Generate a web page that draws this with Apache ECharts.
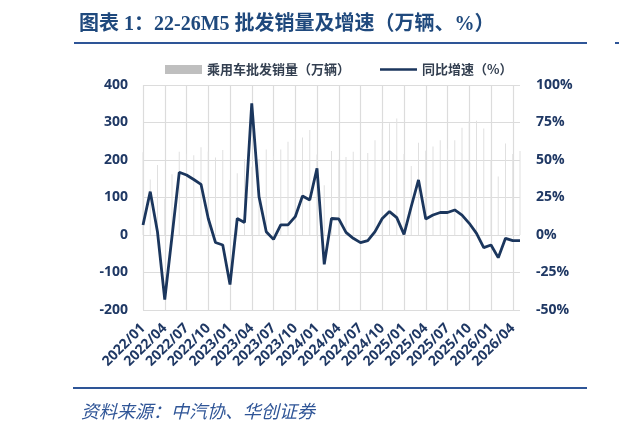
<!DOCTYPE html>
<html>
<head>
<meta charset="utf-8">
<script src="https://cdn.jsdelivr.net/npm/echarts@6/dist/echarts.min.js"></script>
<style>
    html, body { margin: 0; padding: 0; background: #fff; }
    #main { width: 619px; height: 436px; }
</style>
</head>
<body>
<div id="main"></div>
<script>
// 月份 2022/01 - 2026/05
let months = [];
for (let y = 2022; y <= 2026; y++) {
    for (let m = 1; m <= 12; m++) {
        if (y === 2026 && m > 5) break;
        months.push(y + "/" + (m < 10 ? "0" + m : m));
    }
}

// 乘用车批发销量（万辆）
let salesData = [
    221, 148, 187, 97, 162, 222, 217, 213, 234, 223, 207, 227,
    147, 165, 202, 182, 203, 228, 211, 228, 249, 254, 260, 280,
    215, 133, 224, 201, 208, 222, 200, 219, 253, 282, 298, 311,
    216, 184, 246, 225, 236, 253, 230, 253, 286, 304, 305, 284,
    200, 156, 244, 216, 224
];

// 同比增速（%）
let yoyData = [
    6.7, 28.9, 2, -43, -1, 41.8, 40, 37, 33.8, 11, -5, -6.7,
    -33, 11, 8.4, 87.8, 25.6, 2.2, -2.9, 6.7, 6.7, 12.2, 26, 23.3,
    44.4, -19.6, 11, 10.7, 1.8, -2.2, -5.1, -3.8, 2.2, 11, 15.6, 11.6,
    0.4, 19, 36.7, 10.7, 13.3, 15, 15, 16.7, 13.3, 7.8, 1.1, -8.4,
    -6.7, -15.1, -2.2, -3.8, -3.8
];

let navy = '#1F3864';
let gridColor = '#DCDCDC';
let labelFont = "'Open Sans', 'Noto Sans CJK SC', sans-serif";
// 图例里的线段（透明角点撑开包围盒，避免被拉伸）
let lineIcon = 'path://M0,0 L0.01,0 L0.01,0.01 Z M0,3.2 L37,3.2 L37,5.8 L0,5.8 Z M36.99,9 L37,9 L37,8.99 Z';

let myChart = echarts.init(document.getElementById('main'));

let option = {
    animation: false,
    title: [{
        text: '图表 1：22-26M5 批发销量及增速（万辆、%）',
        left: 74,
        top: 10,
        textStyle: {
            fontFamily: "'Liberation Serif', 'Noto Sans CJK SC', serif",
            fontSize: 20,
            fontWeight: 'bold',
            color: '#1F497D'
        }
    }, {
        text: '图表 2',
        left: 614,
        top: 10,
        textStyle: {
            fontFamily: "'Liberation Serif', 'Noto Sans CJK SC', serif",
            fontSize: 20,
            fontWeight: 'bold',
            color: '#1F497D'
        }
    }, {
        text: '资料来源：中汽协、华创证券',
        left: 76,
        top: 397,
        textStyle: {
            fontFamily: "'Noto Sans CJK SC', sans-serif",
            fontSize: 18,
            fontStyle: 'italic',
            fontWeight: 'normal',
            color: '#2F5597'
        }
    }],
    graphic: [{
        type: 'line',
        shape: { x1: 74, y1: 43, x2: 587, y2: 43 },
        style: { stroke: '#2E5597', lineWidth: 2 }
    }, {
        type: 'line',
        shape: { x1: 615, y1: 43, x2: 619, y2: 43 },
        style: { stroke: '#2E5597', lineWidth: 2 }
    }, {
        type: 'line',
        shape: { x1: 73, y1: 388, x2: 587, y2: 388 },
        style: { stroke: '#2E5597', lineWidth: 2 }
    }],
    legend: {
        left: 160,
        top: 58,
        itemGap: 30,
        itemWidth: 37,
        itemHeight: 9,
        textStyle: {
            fontFamily: "'Noto Sans CJK SC', sans-serif",
            fontSize: 13,
            fontWeight: 'bold',
            color: '#333F50'
        },
        data: [
            { name: '乘用车批发销量（万辆）', icon: 'rect', itemStyle: { color: '#BFBFBF' } },
            { name: '同比增速（%）', icon: lineIcon, itemStyle: { color: '#1B365D' } }
        ]
    },
    grid: {
        left: 143,
        right: 99,
        top: 85,
        bottom: 126
    },
    xAxis: {
        type: 'category',
        data: months,
        boundaryGap: false,
        axisLine: { show: false },
        axisTick: { show: false },
        axisLabel: {
            interval: 2,
            rotate: 45,
            margin: 16,
            fontFamily: labelFont,
            fontSize: 14,
            fontWeight: 'bold',
            color: navy
        },
        splitLine: {
            show: true,
            interval: 2,
            lineStyle: { color: gridColor, width: 1.2 }
        }
    },
    yAxis: [{
        type: 'value',
        min: -200,
        max: 400,
        interval: 100,
        axisLine: { show: false },
        axisTick: { show: false },
        axisLabel: {
            margin: 15,
            fontFamily: labelFont,
            fontSize: 14,
            fontWeight: 'bold',
            color: navy
        },
        splitLine: { lineStyle: { color: gridColor, width: 1.2 } }
    }, {
        type: 'value',
        min: -50,
        max: 100,
        interval: 25,
        axisLine: { show: false },
        axisTick: { show: false },
        axisLabel: {
            margin: 16,
            formatter: '{value}%',
            fontFamily: labelFont,
            fontSize: 14,
            fontWeight: 'bold',
            color: navy
        },
        splitLine: { show: false }
    }],
    series: [{
        name: '乘用车批发销量（万辆）',
        type: 'bar',
        data: salesData,
        barWidth: 1,
        itemStyle: { color: '#E0E0E0' }
    }, {
        name: '同比增速（%）',
        type: 'line',
        yAxisIndex: 1,
        data: yoyData,
        symbol: 'none',
        lineStyle: { color: '#1B365D', width: 2.8 },
        itemStyle: { color: '#1B365D' }
    }]
};

myChart.setOption(option);
</script>
</body>
</html>
